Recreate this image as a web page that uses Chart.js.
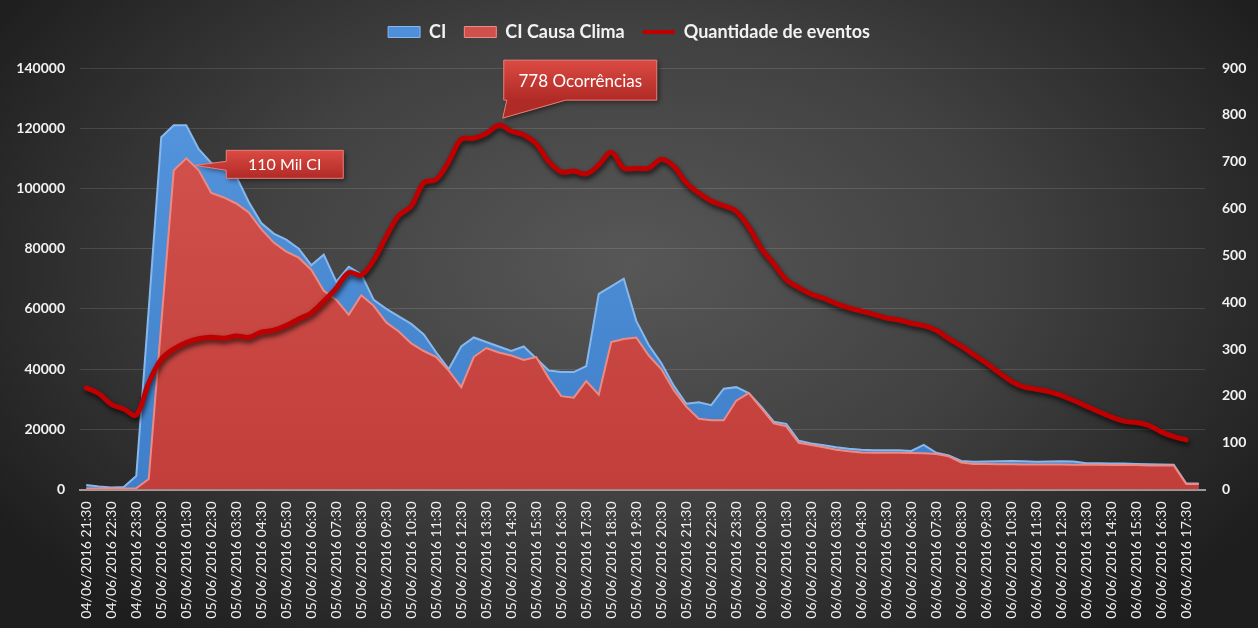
<!DOCTYPE html>
<html>
<head>
<meta charset="utf-8">
<script src="https://cdn.jsdelivr.net/npm/chart.js@4.4.1/dist/chart.umd.min.js"></script>
<style>
  html, body { margin: 0; padding: 0; background: #1d1d1d; }
</style>
</head>
<body>
<canvas id="chart" width="1258" height="628"></canvas>
<script>
// categories every 30 min, only the hh:30 ones get a tick label
const categories = [
  '04/06/2016 21:30', '04/06/2016 22:00', '04/06/2016 22:30', '04/06/2016 23:00', '04/06/2016 23:30',
  '05/06/2016 00:00', '05/06/2016 00:30', '05/06/2016 01:00', '05/06/2016 01:30', '05/06/2016 02:00',
  '05/06/2016 02:30', '05/06/2016 03:00', '05/06/2016 03:30', '05/06/2016 04:00', '05/06/2016 04:30',
  '05/06/2016 05:00', '05/06/2016 05:30', '05/06/2016 06:00', '05/06/2016 06:30', '05/06/2016 07:00',
  '05/06/2016 07:30', '05/06/2016 08:00', '05/06/2016 08:30', '05/06/2016 09:00', '05/06/2016 09:30',
  '05/06/2016 10:00', '05/06/2016 10:30', '05/06/2016 11:00', '05/06/2016 11:30', '05/06/2016 12:00',
  '05/06/2016 12:30', '05/06/2016 13:00', '05/06/2016 13:30', '05/06/2016 14:00', '05/06/2016 14:30',
  '05/06/2016 15:00', '05/06/2016 15:30', '05/06/2016 16:00', '05/06/2016 16:30', '05/06/2016 17:00',
  '05/06/2016 17:30', '05/06/2016 18:00', '05/06/2016 18:30', '05/06/2016 19:00', '05/06/2016 19:30',
  '05/06/2016 20:00', '05/06/2016 20:30', '05/06/2016 21:00', '05/06/2016 21:30', '05/06/2016 22:00',
  '05/06/2016 22:30', '05/06/2016 23:00', '05/06/2016 23:30', '06/06/2016 00:00', '06/06/2016 00:30',
  '06/06/2016 01:00', '06/06/2016 01:30', '06/06/2016 02:00', '06/06/2016 02:30', '06/06/2016 03:00',
  '06/06/2016 03:30', '06/06/2016 04:00', '06/06/2016 04:30', '06/06/2016 05:00', '06/06/2016 05:30',
  '06/06/2016 06:00', '06/06/2016 06:30', '06/06/2016 07:00', '06/06/2016 07:30', '06/06/2016 08:00',
  '06/06/2016 08:30', '06/06/2016 09:00', '06/06/2016 09:30', '06/06/2016 10:00', '06/06/2016 10:30',
  '06/06/2016 11:00', '06/06/2016 11:30', '06/06/2016 12:00', '06/06/2016 12:30', '06/06/2016 13:00',
  '06/06/2016 13:30', '06/06/2016 14:00', '06/06/2016 14:30', '06/06/2016 15:00', '06/06/2016 15:30',
  '06/06/2016 16:00', '06/06/2016 16:30', '06/06/2016 17:00', '06/06/2016 17:30', '06/06/2016 18:00'
];

const ciValues = [
  1500, 1000, 700, 800, 4500, 60000, 117000, 121000, 121000, 113000,
  108500, 106500, 104000, 95500, 88500, 85000, 83000, 80000, 74500, 78000,
  69000, 74000, 71500, 63000, 60000, 57500, 55000, 51500, 45500, 40000,
  47500, 50500, 49000, 47500, 46000, 47500, 43500, 39500, 39000, 39000,
  41000, 65000, 67500, 70000, 56000, 48000, 42000, 34500, 28500, 29000,
  28000, 33500, 34000, 32000, 27500, 22500, 21800, 16200, 15300, 14700,
  14000, 13500, 13200, 13000, 13000, 13000, 12800, 14800, 12200, 11300,
  9500, 9200, 9300, 9400, 9500, 9400, 9200, 9300, 9400, 9300,
  8700, 8700, 8600, 8600, 8500, 8400, 8300, 8200, 2000, 2000
];

const ciClimaValues = [
  300, 300, 300, 300, 400, 3500, 55000, 106000, 110000, 106000,
  98500, 97000, 95000, 92000, 86500, 82000, 79000, 77000, 73000, 66000,
  63000, 58000, 64500, 61000, 55500, 52500, 48500, 46000, 44000, 39500,
  34000, 44000, 47000, 45500, 44500, 43000, 44000, 37000, 31000, 30500,
  36000, 31500, 49000, 50000, 50500, 44500, 40000, 33000, 27500, 23500,
  23000, 23000, 29500, 32000, 27000, 22000, 21000, 15500, 14800, 14000,
  13200, 12700, 12300, 12200, 12200, 12200, 12100, 12000, 11800, 11000,
  9000, 8500, 8500, 8400, 8400, 8300, 8300, 8300, 8300, 8200,
  8200, 8200, 8100, 8100, 8100, 8000, 8000, 8000, 1800, 1800
];

const eventCounts = [
  217, 205, 182, 172, 159, 228, 278, 300, 314, 322,
  325, 323, 328, 325, 336, 340, 350, 364, 377, 402,
  430, 463, 458, 490, 540, 585, 605, 655, 662, 700,
  748, 750, 760, 778, 765, 757, 738, 700, 678, 680,
  674, 693, 720, 686, 686, 686, 705, 690, 655, 633,
  616, 606, 594, 560, 515, 482, 448, 431, 417, 408,
  397, 388, 381, 374, 366, 362, 355, 350, 340, 322,
  306, 288, 270, 250, 231, 219, 214, 209, 201, 190,
  178, 166, 155, 146, 143, 137, 123, 113, 106, null
];

const peakCiIndex = 8;      // "110 Mil CI"
const peakEventIndex = 33;  // "778 Ocorrências"

const FONT = 'Lato, "Noto Sans", sans-serif';

function vGradient(chart, top, bottom) {
  const area = chart.chartArea;
  if (!area) return top;
  const g = chart.ctx.createLinearGradient(0, area.top, 0, area.bottom);
  g.addColorStop(0, top);
  g.addColorStop(1, bottom);
  return g;
}

const backgroundPlugin = {
  id: 'background',
  beforeDraw(chart) {
    const { ctx, width, height } = chart;
    ctx.save();
    ctx.fillStyle = '#1e1e1e';
    ctx.fillRect(0, 0, width, height);
    ctx.translate(width * 0.5, height * 0.42);
    ctx.scale(1, 0.62);
    const g = ctx.createRadialGradient(0, 0, 0, 0, 0, width * 0.6);
    g.addColorStop(0, '#575757');
    g.addColorStop(0.5, '#414141');
    g.addColorStop(1, '#1e1e1e');
    ctx.fillStyle = g;
    ctx.fillRect(-width, -height * 2, width * 2, height * 4);
    ctx.restore();
  }
};

// drop shadow under the events line
const lineShadowPlugin = {
  id: 'lineShadow',
  beforeDatasetDraw(chart, args) {
    if (args.index !== 2) return;
    const ctx = chart.ctx;
    ctx.save();
    ctx.shadowColor = 'rgba(0,0,0,0.7)';
    ctx.shadowBlur = 5;
    ctx.shadowOffsetX = 1;
    ctx.shadowOffsetY = 3;
  },
  afterDatasetDraw(chart, args) {
    if (args.index !== 2) return;
    chart.ctx.restore();
  }
};

function drawCallout(ctx, box, poly, text, fontSize) {
  ctx.save();
  ctx.shadowColor = 'rgba(0,0,0,0.5)';
  ctx.shadowBlur = 5;
  ctx.shadowOffsetX = 2;
  ctx.shadowOffsetY = 2;
  const g = ctx.createLinearGradient(0, box.y, 0, box.y + box.h);
  g.addColorStop(0, '#dc4a43');
  g.addColorStop(1, '#b02a26');
  ctx.fillStyle = g;
  ctx.beginPath();
  ctx.moveTo(poly[0][0], poly[0][1]);
  for (let i = 1; i < poly.length; i++) ctx.lineTo(poly[i][0], poly[i][1]);
  ctx.closePath();
  ctx.fill();
  ctx.shadowColor = 'transparent';
  ctx.strokeStyle = '#e9817b';
  ctx.lineWidth = 1;
  ctx.stroke();
  ctx.fillStyle = '#ffffff';
  ctx.font = fontSize + 'px ' + FONT;
  ctx.textAlign = 'center';
  ctx.textBaseline = 'middle';
  ctx.fillText(text, box.x + box.w / 2, box.y + box.h / 2 + 1);
  ctx.restore();
}

const calloutPlugin = {
  id: 'callouts',
  afterDatasetsDraw(chart) {
    const { ctx, scales } = chart;
    // 110 Mil CI, pointing at the CI Causa Clima peak
    const px = scales.x.getPixelForValue(peakCiIndex);
    const py = scales.y.getPixelForValue(ciClimaValues[peakCiIndex]);
    const b1 = { x: px + 40, y: py - 8, w: 117, h: 28 };
    drawCallout(ctx, b1, [
      [b1.x, b1.y], [b1.x + b1.w, b1.y], [b1.x + b1.w, b1.y + b1.h], [b1.x, b1.y + b1.h],
      [b1.x, b1.y + 20], [px + 9, py + 7], [b1.x, b1.y + 11]
    ], '110 Mil CI', 16);

    // 778 Ocorrências, pointing at the events peak
    const qx = scales.x.getPixelForValue(peakEventIndex);
    const qy = scales.y1.getPixelForValue(eventCounts[peakEventIndex]);
    const b2 = { x: qx + 5, y: qy - 65, w: 153, h: 40 };
    drawCallout(ctx, b2, [
      [b2.x, b2.y], [b2.x + b2.w, b2.y], [b2.x + b2.w, b2.y + b2.h],
      [b2.x + 62, b2.y + b2.h], [qx + 4, qy - 7], [b2.x + 3, b2.y + b2.h], [b2.x, b2.y + b2.h]
    ], '778 Ocorrências', 17);
  }
};

new Chart(document.getElementById('chart'), {
  type: 'line',
  data: {
    labels: categories,
    datasets: [
      {
        label: 'CI',
        data: ciValues,
        yAxisID: 'y',
        order: 2,
        fill: 'origin',
        tension: 0,
        pointRadius: 0,
        borderWidth: 2,
        borderColor: '#86b8ee',
        backgroundColor: (c) => vGradient(c.chart, '#5696de', '#3f7fc9')
      },
      {
        label: 'CI Causa Clima',
        data: ciClimaValues,
        yAxisID: 'y',
        order: 1,
        fill: 'origin',
        tension: 0,
        pointRadius: 0,
        borderWidth: 2,
        borderColor: '#ee8a84',
        backgroundColor: (c) => vGradient(c.chart, '#d6554f', '#c13e3a')
      },
      {
        label: 'Quantidade de eventos',
        data: eventCounts,
        yAxisID: 'y1',
        order: 0,
        fill: false,
        tension: 0.35,
        pointRadius: 0,
        borderWidth: 5,
        borderColor: '#c00000',
        borderCapStyle: 'round',
        borderJoinStyle: 'round'
      }
    ]
  },
  options: {
    responsive: false,
    animation: false,
    layout: { padding: { top: 5, left: 0, right: 0, bottom: 0 } },
    plugins: {
      tooltip: { enabled: false },
      // empty title used as a spacer between the legend and the plot
      title: {
        display: true,
        text: '',
        weight: 500,
        font: { size: 10, lineHeight: 1 },
        padding: { top: 0, bottom: 7 }
      },
      legend: {
        position: 'top',
        labels: {
          color: '#f2f2f2',
          font: { family: FONT, size: 18, weight: 'bold' },
          padding: 18,
          usePointStyle: true,
          pointStyleWidth: 32,
          boxHeight: 11,
          generateLabels: () => [
            { text: 'CI', pointStyle: 'rect', fillStyle: '#4f8fd9', strokeStyle: '#86b8ee', lineWidth: 1, fontColor: '#f2f2f2', datasetIndex: 0 },
            { text: 'CI Causa Clima', pointStyle: 'rect', fillStyle: '#d0504b', strokeStyle: '#ee8a84', lineWidth: 1, fontColor: '#f2f2f2', datasetIndex: 1 },
            { text: 'Quantidade de eventos', pointStyle: 'line', fillStyle: '#c00000', strokeStyle: '#c00000', lineWidth: 4, fontColor: '#f2f2f2', datasetIndex: 2 }
          ]
        }
      }
    },
    scales: {
      x: {
        type: 'category',
        offset: true,
        z: 1,
        grid: { display: false },
        border: { display: true, color: '#a69696', width: 2 },
        ticks: {
          autoSkip: false,
          maxRotation: 90,
          minRotation: 90,
          padding: 4,
          color: '#f0f0f0',
          font: { family: FONT, size: 14 },
          callback: function (value, index) {
            return index % 2 === 0 ? this.getLabelForValue(value) : '';
          }
        },
        afterFit: (scale) => { scale.height = 138.5; }
      },
      y: {
        position: 'left',
        min: 0,
        max: 140000,
        grid: { color: 'rgba(255,255,255,0.12)', lineWidth: 1, drawTicks: false },
        border: { display: false },
        ticks: {
          stepSize: 20000,
          padding: 15,
          color: '#f2f2f2',
          font: { family: FONT, size: 14, weight: 'bold' },
          callback: (v) => String(v)
        },
        afterFit: (scale) => { scale.width = 80; }
      },
      y1: {
        position: 'right',
        min: 0,
        max: 900,
        grid: { display: false, drawTicks: false },
        border: { display: false },
        ticks: {
          stepSize: 100,
          padding: 17,
          color: '#f2f2f2',
          font: { family: FONT, size: 14, weight: 'bold' },
          callback: (v) => String(v)
        },
        afterFit: (scale) => { scale.width = 53; }
      }
    }
  },
  plugins: [backgroundPlugin, lineShadowPlugin, calloutPlugin]
});
</script>
</body>
</html>
